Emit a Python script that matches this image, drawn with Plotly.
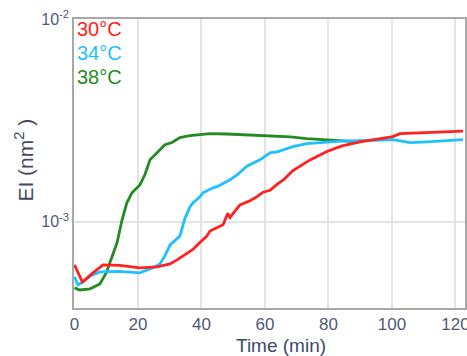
import plotly.graph_objects as go

# ---- data (time in min, EI in nm^2) ----
t_30 = [0, 2.5, 5.8, 9.0, 14.3, 20.6, 26.0, 30.1, 32.3, 35.0, 37.3, 39.5, 41.7, 42.7, 44.5,
        46.8, 48.3, 49.0, 49.6, 52.1, 55.3, 57.5, 59.4, 61.6, 63.8, 66.0, 68.8, 71.5,
        74.2, 79.5, 84.0, 89.9, 96.2, 100.3, 102.5, 107.0, 112.9, 118.0, 122.4]
ei_30 = [6.13e-4, 5.05e-4, 5.6e-4, 6.13e-4, 6.1e-4, 5.93e-4, 5.99e-4, 6.2e-4, 6.49e-4, 6.9e-4,
         7.3e-4, 7.9e-4, 8.5e-4, 9.0e-4, 9.3e-4,
         9.67e-4, 1.10e-3, 1.05e-3, 1.083e-3, 1.21e-3, 1.27e-3, 1.33e-3, 1.40e-3, 1.43e-3,
         1.53e-3, 1.62e-3, 1.79e-3, 1.90e-3,
         2.02e-3, 2.22e-3, 2.36e-3, 2.48e-3, 2.57e-3, 2.63e-3, 2.72e-3, 2.74e-3, 2.76e-3,
         2.79e-3, 2.80e-3]

t_34 = [0, 1.1, 3.0, 5.0, 8.0, 14.0, 20.6, 24.7, 26.9, 28.5, 30.1, 33.2, 34.8, 36.4, 37.3,
        39.5, 40.5, 43.6, 44.9, 48.0, 49.0, 51.5, 54.3, 58.4, 61.6, 64.1, 68.8, 73.2, 79.5,
        84.0, 89.9, 95.0, 100.3, 103.0, 105.7, 111.0, 116.0, 122.4]
ei_34 = [5.35e-4, 4.88e-4, 5.1e-4, 5.4e-4, 5.66e-4, 5.7e-4, 5.6e-4, 5.93e-4, 6.2e-4, 6.8e-4,
         7.7e-4, 8.5e-4, 1.04e-3, 1.186e-3, 1.24e-3,
         1.33e-3, 1.39e-3, 1.47e-3, 1.49e-3, 1.58e-3, 1.61e-3, 1.72e-3, 1.88e-3, 2.02e-3,
         2.19e-3, 2.22e-3, 2.35e-3, 2.43e-3, 2.48e-3,
         2.50e-3, 2.51e-3, 2.53e-3, 2.54e-3, 2.50e-3, 2.455e-3, 2.48e-3, 2.50e-3, 2.54e-3]

t_38 = [0, 1.7, 4.9, 8.0, 10.0, 11.2, 13.4, 15.0, 15.9, 16.5, 18.1, 20.6, 22.2, 23.8, 26.0,
        28.5, 30.7, 33.2, 36.4, 42.7, 48.0, 53.1, 58.0, 63.8, 68.0, 73.2, 78.0, 82.7, 89.9]
ei_38 = [4.72e-4, 4.61e-4, 4.67e-4, 4.94e-4, 5.6e-4, 6.27e-4, 7.88e-4, 1.023e-3, 1.146e-3,
         1.241e-3, 1.39e-3, 1.52e-3, 1.71e-3, 2.02e-3, 2.19e-3,
         2.40e-3, 2.46e-3, 2.60e-3, 2.66e-3, 2.72e-3, 2.71e-3, 2.69e-3, 2.67e-3, 2.64e-3,
         2.62e-3, 2.57e-3, 2.54e-3, 2.51e-3, 2.48e-3]

labels = ["30°C", "34°C", "38°C"]
colors = ["#ff2020", "#1ec0ff", "#228b22"]

y_tickvals = [1e-3, 1e-2]
y_ticktext = ["10<sup>-3</sup>", "10<sup>-2</sup>"]
x_tickvals = [0, 20, 40, 60, 80, 100, 120]

fig = go.Figure()
series = [(t_38, ei_38, labels[2], colors[2]),
          (t_34, ei_34, labels[1], colors[1]),
          (t_30, ei_30, labels[0], colors[0])]
for tx, ey, name, col in series:
    fig.add_trace(go.Scatter(x=tx, y=ey, mode="lines", name=name,
                             line=dict(color=col, width=2.8, shape="linear"),
                             showlegend=False))

FONT = "Liberation Sans, Arial"

# text-only legend
for i, (lab, col) in enumerate(zip(labels, colors)):
    fig.add_annotation(x=0, y=1, xref="paper", yref="paper", xanchor="left", yanchor="top",
                       xshift=1, yshift=3 - 24 * i, text=lab, showarrow=False,
                       font=dict(family=FONT, size=20, color=col))

# axis titles as annotations
fig.add_annotation(x=0.53, y=0, xref="paper", yref="paper", xanchor="center", yanchor="middle",
                   yshift=-37, text="Time (min)", showarrow=False,
                   font=dict(family=FONT, size=19, color="#3e4a68"))
fig.add_annotation(x=0, y=0.51, xref="paper", yref="paper", xanchor="center", yanchor="middle",
                   xshift=-50, text="EI (nm<sup>2</sup> )", textangle=-90, showarrow=False,
                   font=dict(family=FONT, size=21, color="#3e4a68"))

x_tick_font = dict(family=FONT, size=17, color="#4f5a74")
y_tick_font = dict(family=FONT, size=16, color="#4f5a74")

fig.update_layout(
    width=467, height=356,
    margin=dict(l=74, r=2, t=19, b=48),
    paper_bgcolor="white", plot_bgcolor="white",
    xaxis=dict(range=[-0.15, 123], tickvals=x_tickvals,
               showgrid=True, gridcolor="#e3e3e3", gridwidth=1.5,
               showline=True, linecolor="#a8a8a8", linewidth=1.5, mirror=True,
               zeroline=False, ticks="", tickfont=x_tick_font, automargin=False,
               ticklabeloverflow="allow"),
    yaxis=dict(type="log", range=[-3.425, -2], tickvals=y_tickvals, ticktext=y_ticktext,
               showgrid=True, gridcolor="#e3e3e3", gridwidth=1.5,
               showline=True, linecolor="#a8a8a8", linewidth=1.5, mirror=True,
               zeroline=False, ticks="", tickfont=y_tick_font, automargin=False,
               ticklabeloverflow="allow"),
)

fig.write_html("out.html", config={"displayModeBar": False},
               post_script="document.body.style.margin='0px';document.body.style.overflow='hidden';")
